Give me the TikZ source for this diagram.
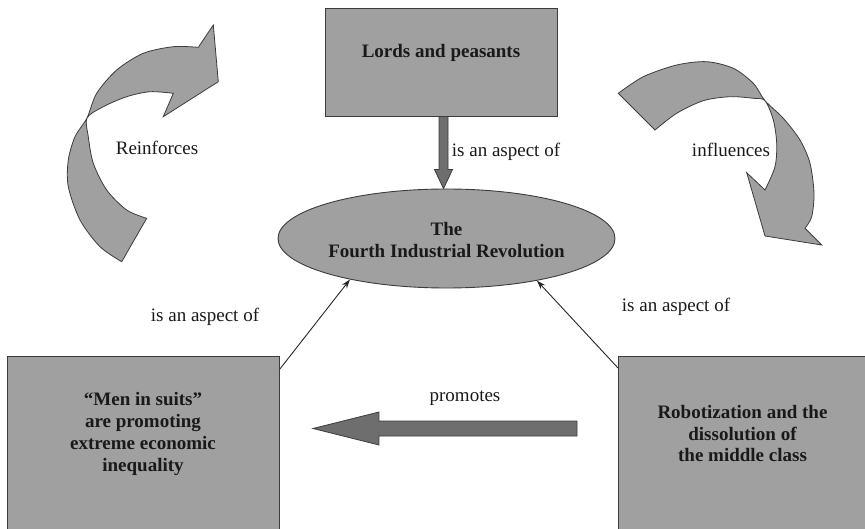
\documentclass[tikz,border=0pt]{standalone}
\usepackage{fontspec}
\setmainfont{Liberation Serif}
\usetikzlibrary{shapes.geometric,arrows.meta,calc}

\definecolor{panel}{RGB}{160,160,160}
\definecolor{darkarrow}{RGB}{110,110,110}
\definecolor{edge}{RGB}{60,60,60}
\definecolor{ink}{RGB}{25,25,25}

\tikzset{
  panelbox/.style={draw=edge, line width=0.9pt, fill=panel, inner sep=0pt},
  heading/.style={font=\fontsize{19}{21.7}\selectfont\bfseries, align=center, text=ink},
  caption/.style={font=\fontsize{19}{21.7}\selectfont, text=ink},
  link/.style={draw=black!85, line width=0.9pt, -{Stealth[length=9pt,width=6pt]}},
  blockarrow/.style={draw=edge, line width=0.8pt, fill=darkarrow},
  curlarrow/.style={draw=edge, line width=0.8pt, fill=panel},
}

\begin{document}
\begin{tikzpicture}[x=1pt,y=-1pt]
\clip (0,0) rectangle (865,529);

% main boxes and the central ellipse
\node[panelbox, minimum width=232pt, minimum height=108pt] (lords) at (441,62) {};
\node[heading] (lordsT) at (441,53) {Lords and peasants};

\node[panelbox, ellipse, minimum width=337pt, minimum height=99pt] (fir) at (446.5,238.5) {};
\node[heading] (firT) at (446.5,240) {The\\Fourth Industrial Revolution};

\node[panelbox, anchor=north west, minimum width=272pt, minimum height=190pt] (suits) at (7,356) {};
\node[heading] (suitsT) at (143,434) {“Men in suits”\\are promoting\\extreme economic\\inequality};

\node[panelbox, anchor=north west, minimum width=252pt, minimum height=190pt] (robot) at (618,356) {};
\node[heading] (robotT) at (742.5,433.5) {Robotization and the\\dissolution of\\the middle class};

% block arrow from the top box down to the ellipse
\coordinate (dtop) at ($(lords.south)+(2.5,0)$);
\coordinate (dtip) at ($(fir.north)+(-3,0)$);
\draw[blockarrow] ($(dtop)+(-4.5,0)$) -- ($(dtip)+(-4.5,-19)$) -- ($(dtip)+(-9,-19)$)
  -- (dtip) -- ($(dtip)+(9,-19)$) -- ($(dtip)+(4.5,-19)$) -- ($(dtop)+(4.5,0)$) -- cycle;

% block arrow between the two lower boxes
\coordinate (ptail) at ($(robot.north west)+(-41,72.5)$);
\coordinate (ptip) at ($(suits.north east)+(33,72.5)$);
\draw[blockarrow] ($(ptail)+(0,-7.5)$) -- ($(ptip)+(66,-7.5)$) -- ($(ptip)+(66,-16.5)$)
  -- (ptip) -- ($(ptip)+(66,16.5)$) -- ($(ptip)+(66,7.5)$) -- ($(ptail)+(0,7.5)$) -- cycle;

% thin connectors into the ellipse
\draw[link] ($(suits.north east)+(0,13)$) -- (fir.203.7);
\draw[link] ($(robot.north west)+(0,12)$) -- (fir.335.2);

% curled arrow on the left
\filldraw[curlarrow]
  plot[smooth] coordinates {(121.7,261.7) (100,246.7) (80,220) (68.3,186.7) (68.3,160)
     (75,136.7) (87,118) (96.7,93.3) (116.7,70) (143.3,53.3) (173.3,46.7) (198.3,47.3)}
  -- (213.3,25) -- (218.3,81.7) -- (163.3,116.7) -- (173.3,93.3)
  -- plot[smooth] coordinates {(173.3,93.3) (150,91.7) (126.7,96.7) (103.3,106.7) (87,118)
     (88.3,136.7) (93.3,163.3) (106.7,190) (126.7,210) (146.7,218.3)}
  -- cycle;

% curled arrow on the right
\filldraw[curlarrow]
  plot[smooth] coordinates {(618.3,93.3) (643.3,76.7) (676.7,65) (706.7,61.7) (733.3,68.3)
     (753.3,83.3) (765,100.7) (783.3,118.3) (800,140) (810,163.3) (814,193.3)
     (811.7,216.7) (805,228.3)}
  -- (821.7,245) -- (765,236) -- (746.7,172.7) -- (765,190)
  -- plot[smooth] coordinates {(765,190) (775,166.7) (776.7,143.3) (773.3,120) (765,100.7)
     (753.3,98.3) (730,96.7) (703.3,100.7) (676.7,113.3) (655,130)}
  -- cycle;

% labels
\node[caption] (lblTop) at (506,152) {is an aspect of};
\node[caption] (lblLeft) at (205,317) {is an aspect of};
\node[caption] (lblRight) at (676,307) {is an aspect of};
\node[caption] (lblProm) at (465,398) {promotes};
\node[caption] (lblReinf) at (157,148) {Reinforces};
\node[caption] (lblInfl) at (731,150) {influences};
\end{tikzpicture}
\end{document}
